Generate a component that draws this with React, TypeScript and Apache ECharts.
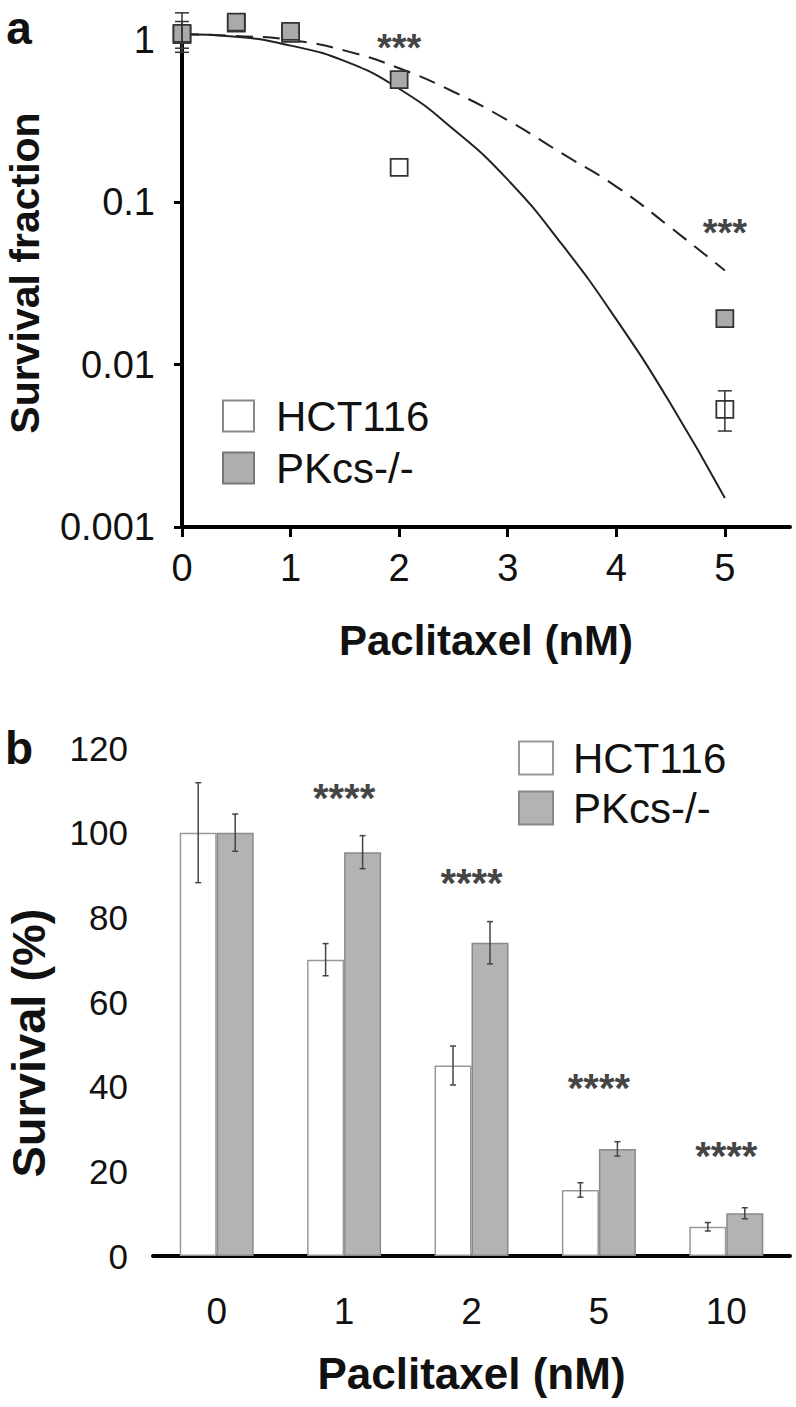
import React, { useEffect, useRef } from "react";
import * as echarts from "echarts";

// ---------- Panel a data ----------
const doseA = [0, 0.5, 1, 2, 5];
const hctA = [1.08, 1.27, 1.1, 0.164, 0.0053];
const pkA = [1.1, 1.29, 1.13, 0.57, 0.0192];
const hctAErrLow = [0.84, null, null, null, 0.0039];
const hctAErrHigh = [1.47, null, null, null, 0.0069];
const pkAErrLow = [0.89, null, null, null, null];
const pkAErrHigh = [1.3, null, null, null, null];
const fitX = [0, 0.5, 1, 1.5, 2, 2.5, 3, 3.5, 4, 4.5, 5];
const fitHct = [1.084, 1.047, 0.923, 0.741, 0.501, 0.282, 0.138, 0.055, 0.019, 0.00575, 0.00151];
const fitPk = [1.084, 1.06, 1.0, 0.86, 0.67, 0.48, 0.32, 0.2, 0.125, 0.07, 0.038];
const xTicksA = [0, 1, 2, 3, 4, 5];
const yTickLabelsA = ["0.001", "0.01", "0.1", "1"];
const starsAX = [2, 5];
const starsAY = [1.0, 0.072];
const starsAText = ["***", "***"];

// ---------- Panel b data ----------
const doseB = ["0", "1", "2", "5", "10"];
const hctB = [100, 70, 45, 15.6, 6.9];
const hctBErr = [11.8, 3.8, 4.6, 1.7, 1.0];
const pkB = [100, 95.4, 74, 25.3, 10.1];
const pkBErr = [4.4, 3.9, 5.0, 1.7, 1.3];
const starsBCat = [1, 2, 3, 4];
const starsBY = [109.6, 89.5, 41, 25];
const starsBText = ["****", "****", "****", "****"];

const FONT = "'Liberation Sans', Arial, sans-serif";
const BAR_W = 37;

export default function App() {
  const ref = useRef<HTMLDivElement>(null);

  useEffect(() => {
    const chart = echarts.init(ref.current!, null, { renderer: "svg" });

    const errA = (lows: (number | null)[], highs: (number | null)[]) =>
      doseA
        .map((d, i) => (lows[i] != null ? [d, lows[i], highs[i]] : null))
        .filter((v) => v != null);

    const errRenderA = (params: any, api: any) => {
      const x = api.value(0);
      const lo = api.coord([x, api.value(1)]);
      const hi = api.coord([x, api.value(2)]);
      const cw = 7;
      return {
        type: "group",
        children: [
          { type: "line", shape: { x1: lo[0], y1: lo[1], x2: hi[0], y2: hi[1] }, style: { stroke: "#333", lineWidth: 1.5 } },
          { type: "line", shape: { x1: lo[0] - cw, y1: lo[1], x2: lo[0] + cw, y2: lo[1] }, style: { stroke: "#333", lineWidth: 1.5 } },
          { type: "line", shape: { x1: hi[0] - cw, y1: hi[1], x2: hi[0] + cw, y2: hi[1] }, style: { stroke: "#333", lineWidth: 1.5 } },
        ],
      };
    };

    const errRenderB = (offset: number) => (params: any, api: any) => {
      const c = api.value(0);
      const v = api.value(1);
      const e = api.value(2);
      const hi = api.coord([c, v + e]);
      const lo = api.coord([c, v - e]);
      const x = hi[0] + offset;
      const cw = 3;
      return {
        type: "group",
        children: [
          { type: "line", shape: { x1: x, y1: lo[1], x2: x, y2: hi[1] }, style: { stroke: "#444", lineWidth: 1.5 } },
          { type: "line", shape: { x1: x - cw, y1: lo[1], x2: x + cw, y2: lo[1] }, style: { stroke: "#444", lineWidth: 1.5 } },
          { type: "line", shape: { x1: x - cw, y1: hi[1], x2: x + cw, y2: hi[1] }, style: { stroke: "#444", lineWidth: 1.5 } },
        ],
      };
    };

    const starLabel = {
      show: true,
      position: "inside",
      formatter: "{b}",
      fontSize: 40,
      fontWeight: "bold",
      fontFamily: FONT,
      color: "#111",
      offset: [0, 6],
    };

    const option: any = {
      animation: false,
      backgroundColor: "#fff",
      textStyle: { fontFamily: FONT },
      grid: [
        { left: 182, top: 40, width: 608, height: 487 },
        { left: 153, top: 748, width: 637, height: 508 },
      ],
      legend: [
        {
          orient: "vertical",
          left: 217,
          top: 390,
          itemWidth: 31,
          itemHeight: 31,
          itemGap: 10,
          selectedMode: false,
          textStyle: { fontSize: 42, fontFamily: FONT, color: "#111", padding: [0, 0, 0, 17] },
          data: [
            { name: "HCT116", icon: "rect", itemStyle: { color: "#fff", borderColor: "#888", borderWidth: 2 } },
            { name: "PKcs-/-", icon: "rect", itemStyle: { color: "#b0b0b0", borderColor: "#777", borderWidth: 2 } },
          ],
        },
        {
          orient: "vertical",
          left: 513,
          top: 732,
          itemWidth: 34,
          itemHeight: 33,
          itemGap: 8,
          selectedMode: false,
          textStyle: { fontSize: 42, fontFamily: FONT, color: "#111", padding: [0, 0, 0, 15] },
          data: [
            { name: "HCT116", icon: "rect", itemStyle: { color: "#fff", borderColor: "#999", borderWidth: 2 } },
            { name: "PKcs-/-", icon: "rect", itemStyle: { color: "#b3b3b3", borderColor: "#888", borderWidth: 2 } },
          ],
        },
      ],
      xAxis: [
        {
          type: "value",
          gridIndex: 0,
          min: 0,
          max: 5.6,
          interval: 1,
          splitLine: { show: false },
          axisLine: { lineStyle: { color: "#000", width: 4 } },
          axisTick: { length: 10, lineStyle: { width: 3, color: "#000" }, customValues: xTicksA },
          axisLabel: {
            fontSize: 38,
            color: "#111",
            margin: 22,
            customValues: xTicksA,
            formatter: (v: number) => (Number.isInteger(v) ? String(v) : ""),
          },
          name: "Paclitaxel (nM)",
          nameLocation: "middle",
          nameGap: 92,
          nameTextStyle: { fontSize: 42, fontWeight: "bold", color: "#111", fontFamily: FONT },
        },
        {
          type: "category",
          gridIndex: 1,
          data: doseB,
          axisLine: { lineStyle: { color: "#000", width: 4 } },
          axisTick: { length: 12, lineStyle: { width: 3, color: "#000" }, alignWithLabel: false },
          axisLabel: { fontSize: 37, color: "#111", margin: 37 },
          name: "Paclitaxel (nM)",
          nameLocation: "middle",
          nameGap: 95,
          nameTextStyle: { fontSize: 44, fontWeight: "bold", color: "#111", fontFamily: FONT },
        },
      ],
      yAxis: [
        {
          type: "log",
          gridIndex: 0,
          logBase: 10,
          min: 0.001,
          max: 1,
          splitLine: { show: false },
          axisLine: { lineStyle: { color: "#000", width: 4 } },
          axisTick: { length: 8, lineStyle: { width: 3, color: "#000" } },
          axisLabel: {
            fontSize: 38,
            color: "#111",
            margin: 27,
            formatter: (v: number) => yTickLabelsA[Math.round(Math.log10(v)) + 3] ?? "",
          },
        },
        {
          type: "value",
          gridIndex: 1,
          min: 0,
          max: 120,
          interval: 20,
          splitLine: { show: false },
          axisLine: { lineStyle: { color: "#000", width: 4 } },
          axisTick: { length: 8, lineStyle: { width: 3, color: "#000" } },
          axisLabel: { fontSize: 35, color: "#111", margin: 25 },
        },
      ],
      graphic: [
        { type: "text", x: 19, y: 28, style: { text: "a", font: `bold 46px ${FONT}`, fill: "#111", align: "center", verticalAlign: "middle" } },
        { type: "text", x: 19, y: 748, style: { text: "b", font: `bold 46px ${FONT}`, fill: "#111", align: "center", verticalAlign: "middle" } },
        {
          type: "text",
          x: 25,
          y: 273,
          rotation: Math.PI / 2,
          style: { text: "Survival fraction", font: `bold 41px ${FONT}`, fill: "#111", align: "center", verticalAlign: "middle" },
        },
        {
          type: "text",
          x: 28,
          y: 1043,
          rotation: Math.PI / 2,
          style: { text: "Survival (%)", font: `bold 47px ${FONT}`, fill: "#111", align: "center", verticalAlign: "middle" },
        },
      ],
      series: [
        // Panel a fitted curves
        {
          name: "fitHCT",
          type: "line",
          xAxisIndex: 0,
          yAxisIndex: 0,
          data: fitX.map((x, i) => [x, fitHct[i]]),
          smooth: 0.5,
          showSymbol: false,
          clip: false,
          lineStyle: { color: "#222", width: 2 },
          z: 2,
        },
        {
          name: "fitPK",
          type: "line",
          xAxisIndex: 0,
          yAxisIndex: 0,
          data: fitX.map((x, i) => [x, fitPk[i]]),
          smooth: 0.5,
          showSymbol: false,
          clip: false,
          lineStyle: { color: "#222", width: 2, type: [17, 10] },
          z: 2,
        },
        {
          name: "HCT116",
          type: "scatter",
          xAxisIndex: 0,
          yAxisIndex: 0,
          symbol: "rect",
          symbolSize: 17,
          clip: false,
          data: doseA.map((d, i) => [d, hctA[i]]),
          itemStyle: { color: "#fff", borderColor: "#333", borderWidth: 1.8, opacity: 1 },
          z: 3,
        },
        {
          name: "PKcs-/-",
          type: "scatter",
          xAxisIndex: 0,
          yAxisIndex: 0,
          symbol: "rect",
          symbolSize: 17,
          clip: false,
          data: doseA.map((d, i) => [d, pkA[i]]),
          itemStyle: { color: "#aaaaaa", borderColor: "#333", borderWidth: 1.8, opacity: 1 },
          z: 4,
        },
        {
          name: "errHCT_a",
          type: "custom",
          xAxisIndex: 0,
          yAxisIndex: 0,
          clip: false,
          data: errA(hctAErrLow, hctAErrHigh),
          renderItem: errRenderA,
          z: 5,
        },
        {
          name: "errPK_a",
          type: "custom",
          xAxisIndex: 0,
          yAxisIndex: 0,
          clip: false,
          data: errA(pkAErrLow, pkAErrHigh),
          renderItem: errRenderA,
          z: 5,
        },
        {
          name: "starsA",
          type: "scatter",
          xAxisIndex: 0,
          yAxisIndex: 0,
          symbolSize: 1,
          clip: false,
          itemStyle: { color: "rgba(0,0,0,0)" },
          data: starsAX.map((x, i) => ({ name: starsAText[i], value: [x, starsAY[i]] })),
          label: { ...starLabel, fontSize: 38, offset: [0, 8] },
          z: 6,
        },
        // Panel b bars
        {
          name: "HCT116",
          type: "bar",
          xAxisIndex: 1,
          yAxisIndex: 1,
          barWidth: BAR_W,
          barGap: "0%",
          data: hctB,
          itemStyle: { color: "#fff", borderColor: "#999", borderWidth: 1.5 },
        },
        {
          name: "PKcs-/-",
          type: "bar",
          xAxisIndex: 1,
          yAxisIndex: 1,
          barWidth: BAR_W,
          barGap: "0%",
          data: pkB,
          itemStyle: { color: "#b3b3b3", borderColor: "#8a8a8a", borderWidth: 1.5 },
        },
        {
          name: "errHCT_b",
          type: "custom",
          xAxisIndex: 1,
          yAxisIndex: 1,
          data: hctB.map((v, i) => [i, v, hctBErr[i]]),
          encode: { x: 0, y: 1 },
          renderItem: errRenderB(-BAR_W / 2),
          z: 5,
        },
        {
          name: "errPK_b",
          type: "custom",
          xAxisIndex: 1,
          yAxisIndex: 1,
          data: pkB.map((v, i) => [i, v, pkBErr[i]]),
          encode: { x: 0, y: 1 },
          renderItem: errRenderB(BAR_W / 2),
          z: 5,
        },
        {
          name: "starsB",
          type: "scatter",
          xAxisIndex: 1,
          yAxisIndex: 1,
          symbolSize: 1,
          itemStyle: { color: "rgba(0,0,0,0)" },
          data: starsBCat.map((c, i) => ({ name: starsBText[i], value: [c, starsBY[i]] })),
          label: starLabel,
          z: 6,
        },
      ],
    };

    chart.setOption(option);
    return () => chart.dispose();
  }, []);

  return (
    <div
      ref={ref}
      style={{ position: "absolute", left: 0, top: 0, width: 796, height: 1407, background: "#fff" }}
    />
  );
}
